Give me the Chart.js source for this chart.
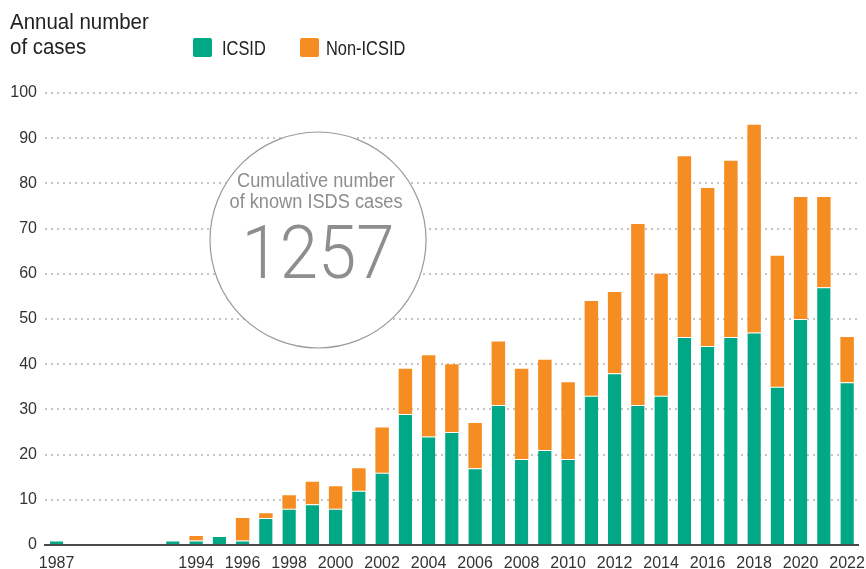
<!DOCTYPE html>
<html>
<head>
<meta charset="utf-8">
<script src="https://cdn.jsdelivr.net/npm/chart.js@4.4.0/dist/chart.umd.min.js"></script>
<style>
html,body{margin:0;padding:0;background:#fff}
</style>
</head>
<body>
<canvas id="myChart" width="866" height="569"></canvas>
<script>
// years 1988-1991 have no cases, shown as an empty gap
var years=['1987','','','','','1993','1994','1995','1996','1997','1998','1999','2000','2001','2002','2003','2004','2005','2006','2007','2008','2009','2010','2011','2012','2013','2014','2015','2016','2017','2018','2019','2020','2021','2022']
var tickYears=['1987','1994','1996','1998','2000','2002','2004','2006','2008','2010','2012','2014','2016','2018','2020','2022']
var icsid=[1,null,null,null,null,1,1,2,1,6,8,9,8,12,16,29,24,25,17,31,19,21,19,33,38,31,33,46,44,46,47,35,50,57,36]
var nonIcsid=[null,null,null,null,null,null,1,null,5,1,3,5,5,5,10,10,18,15,10,14,20,20,17,21,18,40,27,40,35,39,46,29,27,20,10]
var totalCases='1257'

var green='#00a886'
var orange='#f68d22'
var font='"Liberation Sans", Arial, sans-serif'

// draws text squeezed horizontally, like the condensed face of the original
function narrowText(c,txt,x,y,sx){
    c.save()
    c.translate(x,y)
    c.scale(sx,1)
    c.fillText(txt,0,0)
    c.restore()
}

var decor={
    id:'decor',
    beforeDatasetsDraw:function(chart){
        var c=chart.ctx
        var a=chart.chartArea
        var cx=a.left+273, cy=240, r=108
        c.save()
        c.beginPath()
        c.arc(cx,cy,r,0,Math.PI*2)
        c.fillStyle='#fff'
        c.fill()
        c.lineWidth=1.2
        c.strokeStyle='#9a9a9a'
        c.stroke()
        c.fillStyle='#8e8e8e'
        c.textAlign='center'
        c.textBaseline='alphabetic'
        c.font='20px '+font
        narrowText(c,'Cumulative number',cx-2,187,0.91)
        narrowText(c,'of known ISDS cases',cx-2,208,0.91)
        c.font='300 75px Roboto, '+font
        narrowText(c,totalCases,cx,278,0.92)
        c.restore()
    },
    afterDraw:function(chart){
        var c=chart.ctx
        c.save()
        c.fillStyle='#222'
        c.textAlign='left'
        c.textBaseline='alphabetic'
        c.font='22px '+font
        narrowText(c,'Annual number',10,29,0.93)
        narrowText(c,'of cases',10,54,0.93)
        // legend
        c.fillStyle=green
        c.beginPath(); c.roundRect(193,38,19,19,2); c.fill()
        c.fillStyle=orange
        c.beginPath(); c.roundRect(300,38,19,19,2); c.fill()
        c.fillStyle='#222'
        c.font='20px '+font
        narrowText(c,'ICSID',222,55,0.82)
        narrowText(c,'Non-ICSID',326,55,0.82)
        c.restore()
    }
}

function setChart(){
    var ctx=document.getElementById('myChart')
    var myChart=new Chart(ctx,{
        type:'bar',
        data:{
            labels:years,
            datasets:[{
                label:'ICSID',
                data:icsid,
                backgroundColor:green,
                borderColor:'#ffffff',
                borderWidth:{top:1,left:0,right:0,bottom:0},
                borderSkipped:'start'
            },{
                label:'Non-ICSID',
                data:nonIcsid,
                backgroundColor:orange,
                borderWidth:0
            }]
        },
        options:{
            responsive:false,
            animation:false,
            layout:{padding:{left:0,right:6,top:93,bottom:0}},
            datasets:{bar:{categoryPercentage:1,barPercentage:0.58}},
            plugins:{
                legend:{display:false},
                tooltip:{enabled:false}
            },
            scales:{
                x:{
                    stacked:true,
                    grid:{display:false},
                    border:{display:true,color:'#4a4a4a',width:2},
                    afterFit:function(s){s.height=24},
                    ticks:{
                        autoSkip:false,
                        maxRotation:0,
                        padding:1,
                        color:'#333',
                        font:{family:font,size:16},
                        callback:function(v,i){
                            var y=years[i]
                            return tickYears.indexOf(y)>=0?y:''
                        }
                    }
                },
                y:{
                    stacked:true,
                    min:0,
                    max:100,
                    afterFit:function(s){s.width=45},
                    border:{display:false,dash:[2,4]},
                    grid:{color:'#c4c4c4',lineWidth:2,drawTicks:false},
                    ticks:{
                        stepSize:10,
                        padding:8,
                        color:'#333',
                        font:{family:font,size:16}
                    }
                }
            }
        },
        plugins:[decor]
    })
}
setChart()
</script>
</body>
</html>
